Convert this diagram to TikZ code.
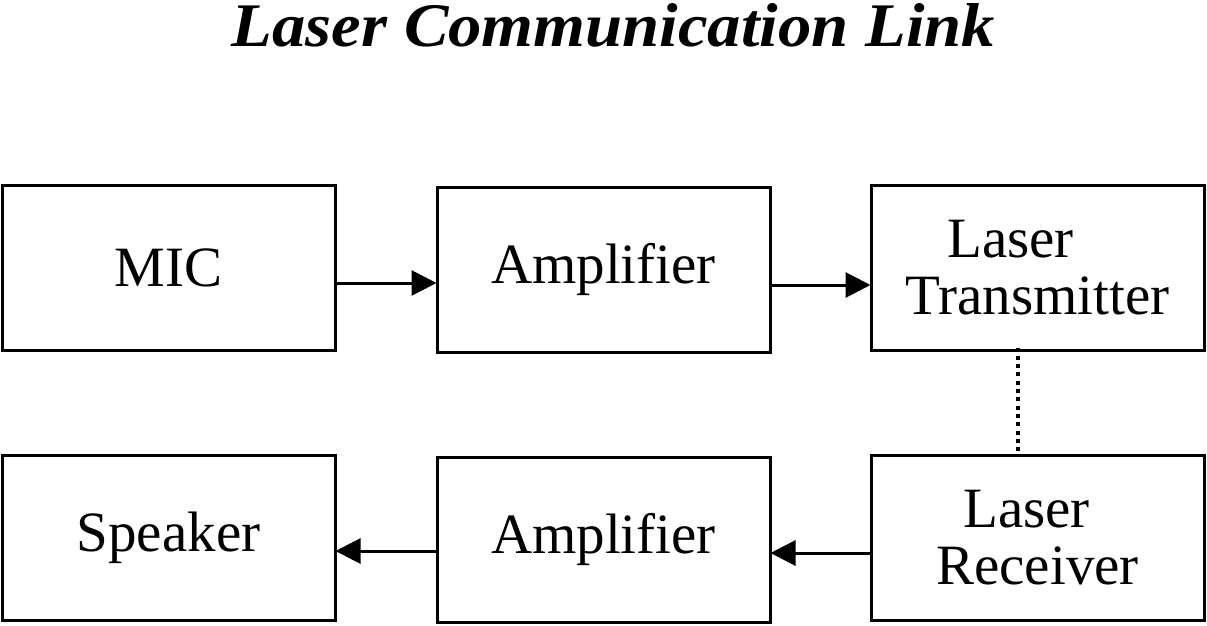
\documentclass[tikz,border=0pt]{standalone}
\usepackage{fontspec}
\setmainfont{Liberation Serif}
\usetikzlibrary{arrows.meta}
\begin{document}
\begin{tikzpicture}[x=1pt,y=-1pt,
  blk/.style={draw,line width=3pt,minimum width=333pt,minimum height=165pt,inner sep=0pt,
    align=center,font=\fontsize{57}{57}\selectfont},
  conn/.style={line width=3pt,-{Triangle[length=25pt,width=25pt]},shorten >=-1pt}]
\useasboundingbox (0,0) rectangle (1207,626);
\node (title) at (613.5,47) [anchor=base,inner sep=0pt]
  {\resizebox{763pt}{43pt}{\bfseries\itshape Laser Communication Link}};
\node[blk] (mic) at (168.5,267.5) {MIC};
\node[blk] (amp1) at (603.5,269.5) {Amplifier};
\node[blk] (ltx) at (1037.5,267.5) {Laser\kern54pt\\Transmitter};
\node[blk] (spk) at (168.5,537.5) {Speaker};
\node[blk] (amp2) at (603.5,539.5) {Amplifier};
\node[blk] (lrx) at (1037.5,537.5) {Laser\kern22pt\\Receiver};
\coordinate (y1) at (0,283);
\coordinate (y2) at (0,285);
\coordinate (y3) at (0,553);
\coordinate (y4) at (0,551);
\coordinate (dx) at (1018,0);
\draw[conn] (mic.east |- y1) -- (amp1.west |- y1);
\draw[conn] (amp1.east |- y2) -- (ltx.west |- y2);
\draw[conn] (lrx.west |- y3) -- (amp2.east |- y3);
\draw[conn] (amp2.west |- y4) -- (spk.east |- y4);
\draw[line width=4pt,dash pattern=on 4pt off 4.3pt] ([yshift=4pt]ltx.south -| dx) -- ([yshift=-2pt]lrx.north -| dx);
\end{tikzpicture}
\end{document}
